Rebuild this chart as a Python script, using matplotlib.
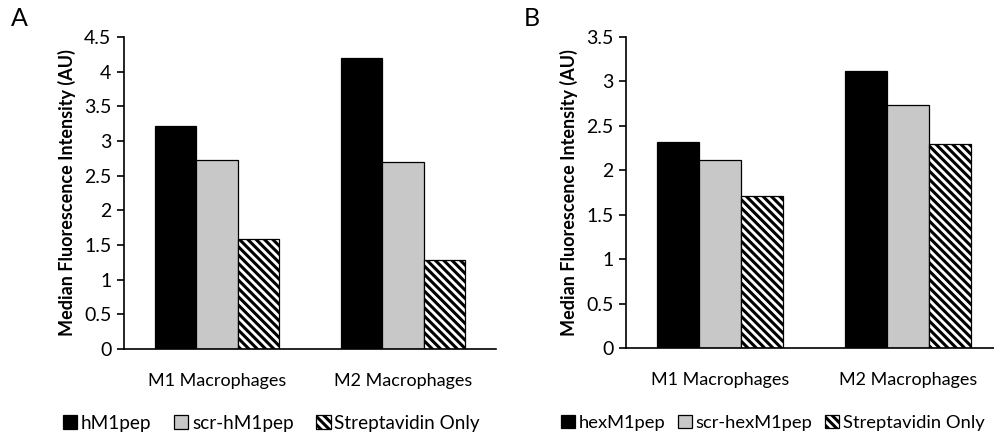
import matplotlib
matplotlib.use("Agg")
import matplotlib.pyplot as plt
import numpy as np

plt.rcParams['font.family'] = ['Lato', 'DejaVu Sans']
plt.rcParams['hatch.linewidth'] = 2.2

categories = ["M1 Macrophages", "M2 Macrophages"]

a_series = ["hM1pep", "scr-hM1pep", "Streptavidin Only"]
a_hm1 = [3.22, 4.19]
a_scr = [2.72, 2.70]
a_strep = [1.58, 1.28]

b_series = ["hexM1pep", "scr-hexM1pep", "Streptavidin Only"]
b_hex = [2.32, 3.12]
b_scr = [2.12, 2.74]
b_strep = [1.71, 2.30]

a_ticks = [0, 0.5, 1, 1.5, 2, 2.5, 3, 3.5, 4, 4.5]
a_ticklabels = ["0", "0.5", "1", "1.5", "2", "2.5", "3", "3.5", "4", "4.5"]
b_ticks = [0, 0.5, 1, 1.5, 2, 2.5, 3, 3.5]
b_ticklabels = ["0", "0.5", "1", "1.5", "2", "2.5", "3", "3.5"]

W, H = 995, 437
fig = plt.figure(figsize=(W / 100, H / 100), dpi=100)

styles = [dict(color="black", edgecolor="black"),
          dict(color="#c8c8c8", edgecolor="black"),
          dict(color="white", edgecolor="black", hatch="\\\\\\\\")]


def panel(rect, series, vals, ticks, ticklabels, ymax, letter, letter_pos, leg_pos,
          leg_fs, leg_cs):
    ax = fig.add_axes(rect)
    x = np.arange(len(categories))
    w = 0.222
    handles = []
    for i, (name, v) in enumerate(zip(series, vals)):
        b = ax.bar(x + (i - 1) * w, v, w, label=name, linewidth=0.9, **styles[i])
        handles.append(b)
    ax.set_xlim(-0.5, 1.5)
    ax.set_ylim(0, ymax)
    ax.set_yticks(ticks)
    ax.set_yticklabels(ticklabels, fontsize=14)
    ax.set_xticks(x)
    ax.set_xticklabels(categories, fontsize=13)
    ax.tick_params(axis='x', length=0, pad=17)
    ax.tick_params(axis='y', length=5, width=1.2, direction='out', pad=4)
    for s in ["top", "right"]:
        ax.spines[s].set_visible(False)
    ax.spines["left"].set_linewidth(1.2)
    ax.spines["bottom"].set_linewidth(1.2)
    ax.set_ylabel("Median Fluorescence Intensity (AU)", fontsize=13, fontweight="bold", labelpad=6)
    fig.text(letter_pos[0] / W, 1 - letter_pos[1] / H, letter, fontsize=18,
             ha="left", va="center")
    fig.legend(handles=handles, labels=series, loc="center left",
               bbox_to_anchor=(leg_pos[0] / W, 1 - leg_pos[1] / H),
               ncol=3, frameon=False, fontsize=leg_fs, handlelength=0.75,
               handleheight=0.75, handletextpad=0.2, columnspacing=leg_cs,
               borderpad=0, borderaxespad=0)
    return ax


panel([124 / W, 1 - 349 / H, 372 / W, 312 / H], a_series, [a_hm1, a_scr, a_strep],
      a_ticks, a_ticklabels, 4.5, "A", (11, 19), (63, 423), 13.6, 1.2)
panel([626 / W, 1 - 348 / H, 376 / W, 311 / H], b_series, [b_hex, b_scr, b_strep],
      b_ticks, b_ticklabels, 3.5, "B", (524, 19), (561, 423), 13.2, 0.7)

fig.savefig("out.png", dpi=100)
